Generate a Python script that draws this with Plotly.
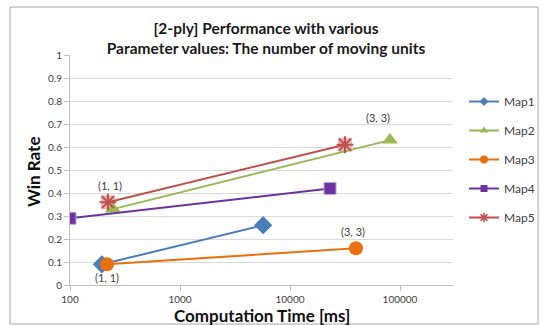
import plotly.graph_objects as go
import math

# Data
series_names = ["Map1", "Map2", "Map3", "Map4", "Map5"]
map1_time = [195, 5700]
map1_win = [0.09, 0.26]
map2_time = [246, 81000]
map2_win = [0.33, 0.63]
map3_time = [217, 39800]
map3_win = [0.09, 0.16]
map4_time = [100, 23100]
map4_win = [0.29, 0.42]
map5_time = [221, 31600]
map5_win = [0.36, 0.61]

x_tick_vals = [100, 1000, 10000, 100000]
x_tick_text = ["100", "1000", "10000", "100000"]
y_tick_vals = [0, 0.1, 0.2, 0.3, 0.4, 0.5, 0.6, 0.7, 0.8, 0.9, 1]
y_tick_text = ["0", "0.1", "0.2", "0.3", "0.4", "0.5", "0.6", "0.7", "0.8", "0.9", "1"]

FONT = "Lato"
fig = go.Figure()

colors = {"Map1": "#4A7EBB", "Map2": "#98B954", "Map3": "#E8700E", "Map4": "#7030A0", "Map5": "#C0504D"}
xs = {"Map1": map1_time, "Map2": map2_time, "Map3": map3_time, "Map4": map4_time, "Map5": map5_time}
ys = {"Map1": map1_win, "Map2": map2_win, "Map3": map3_win, "Map4": map4_win, "Map5": map5_win}
symbols = {"Map1": "diamond", "Map2": "triangle-up", "Map3": "circle", "Map4": "square", "Map5": "asterisk-open"}
sizes = {"Map1": 14, "Map2": 14, "Map3": 14, "Map4": 12, "Map5": 14}
legend_sizes = {"Map1": 7, "Map2": 8, "Map3": 8, "Map4": 7, "Map5": 8}

# Map5 pink background squares (drawn first)
fig.add_trace(go.Scatter(x=map5_time, y=map5_win, mode="markers", showlegend=False,
                         hoverinfo="skip",
                         marker=dict(symbol="square", size=14, color="#E6B9B8")))

for name in series_names:
    c = colors[name]
    mline = dict(color=c, width=2) if name == "Map5" else (
        dict(color="#B4A7D6", width=1) if name == "Map4" else dict(width=0))
    fig.add_trace(go.Scatter(x=xs[name], y=ys[name], name=name, mode="lines+markers",
                             showlegend=False,
                             line=dict(color=c, width=2),
                             marker=dict(symbol=symbols[name], size=sizes[name], color=c, line=mline)))

# legend-only entries with small markers
for i, name in enumerate(series_names):
    c = colors[name]
    mline = dict(color=c, width=1.5) if name == "Map5" else dict(width=0)
    fig.add_trace(go.Scatter(x=[None], y=[None], name=name, mode="lines+markers",
                             legendgroup="g%d" % i,
                             line=dict(color=c, width=2),
                             marker=dict(symbol=symbols[name], size=legend_sizes[name], color=c, line=mline)))

L, R, T, B = 70, 89, 55, 40
PW, PH = 542 - L - R, 325 - T - B

def px(xp):
    return (xp - L) / PW

def py(yp):
    return (325 - B - yp) / PH

ann_font = dict(family=FONT, size=11, color="#404040")
annotations = [
    dict(x=math.log10(map5_time[0]), y=map5_win[0], text="(1, 1)", showarrow=False,
         xshift=2, yshift=17, font=ann_font),
    dict(x=math.log10(map3_time[0]), y=map3_win[0], text="(1, 1)", showarrow=False,
         xshift=0, yshift=-13, font=ann_font),
    dict(x=math.log10(map2_time[1]), y=map2_win[1], text="(3, 3)", showarrow=False,
         xshift=-12, yshift=23, font=ann_font),
    dict(x=math.log10(map3_time[1]), y=map3_win[1], text="(3, 3)", showarrow=False,
         xshift=-3, yshift=17, font=ann_font),
    dict(xref="paper", yref="paper", x=px(262), y=py(315), xanchor="center", yanchor="middle",
         text="<b>Computation Time [ms]</b>", showarrow=False,
         font=dict(family=FONT, size=17, color="#111111")),
    dict(xref="paper", yref="paper", x=px(33), y=py(172), xanchor="center", yanchor="middle",
         text="<b>Win Rate</b>", showarrow=False, textangle=-90,
         font=dict(family=FONT, size=17, color="#111111")),
]

fig.update_layout(
    width=542, height=325,
    margin=dict(l=L, r=R, t=T, b=B, autoexpand=False),
    paper_bgcolor="white", plot_bgcolor="white",
    font=dict(family=FONT, color="#404040"),
    title=dict(text="<b>[2-ply] Performance with various<br>Parameter values: The number of moving units</b>",
               x=266 / 542, xanchor="center", y=1 - 34 / 325, yanchor="middle",
               font=dict(family=FONT, size=15.5, color="#1a1a1a")),
    xaxis=dict(type="log", range=[2, 2 + 383 / 110], automargin=False,
               tickvals=x_tick_vals, ticktext=x_tick_text,
               showgrid=False, showline=True, linecolor="#BFBFBF", linewidth=1,
               ticks="outside", ticklen=5, tickcolor="#BFBFBF",
               tickfont=dict(family=FONT, size=10, color="#404040"),
               zeroline=False),
    yaxis=dict(range=[0, 1], tickvals=y_tick_vals, ticktext=y_tick_text, automargin=False,
               showgrid=True, gridcolor="#D9D9D9", gridwidth=1,
               showline=True, linecolor="#BFBFBF", linewidth=1,
               ticks="outside", ticklen=5, tickcolor="#BFBFBF",
               tickfont=dict(family=FONT, size=10, color="#404040"),
               zeroline=False),
    legend=dict(x=px(464), xanchor="left", y=py(87), yanchor="top",
                font=dict(family=FONT, size=12, color="#404040"),
                tracegroupgap=10, bgcolor="rgba(0,0,0,0)"),
    annotations=annotations,
    shapes=[dict(type="rect", xref="paper", yref="paper",
                 x0=px(10), x1=px(538), y0=py(324), y1=py(7),
                 line=dict(color="#A6A6A6", width=1), layer="below")],
)

fig.write_html("out.html", config={"displayModeBar": False},
               post_script="document.body.style.margin='0';document.body.style.overflow='hidden';")
